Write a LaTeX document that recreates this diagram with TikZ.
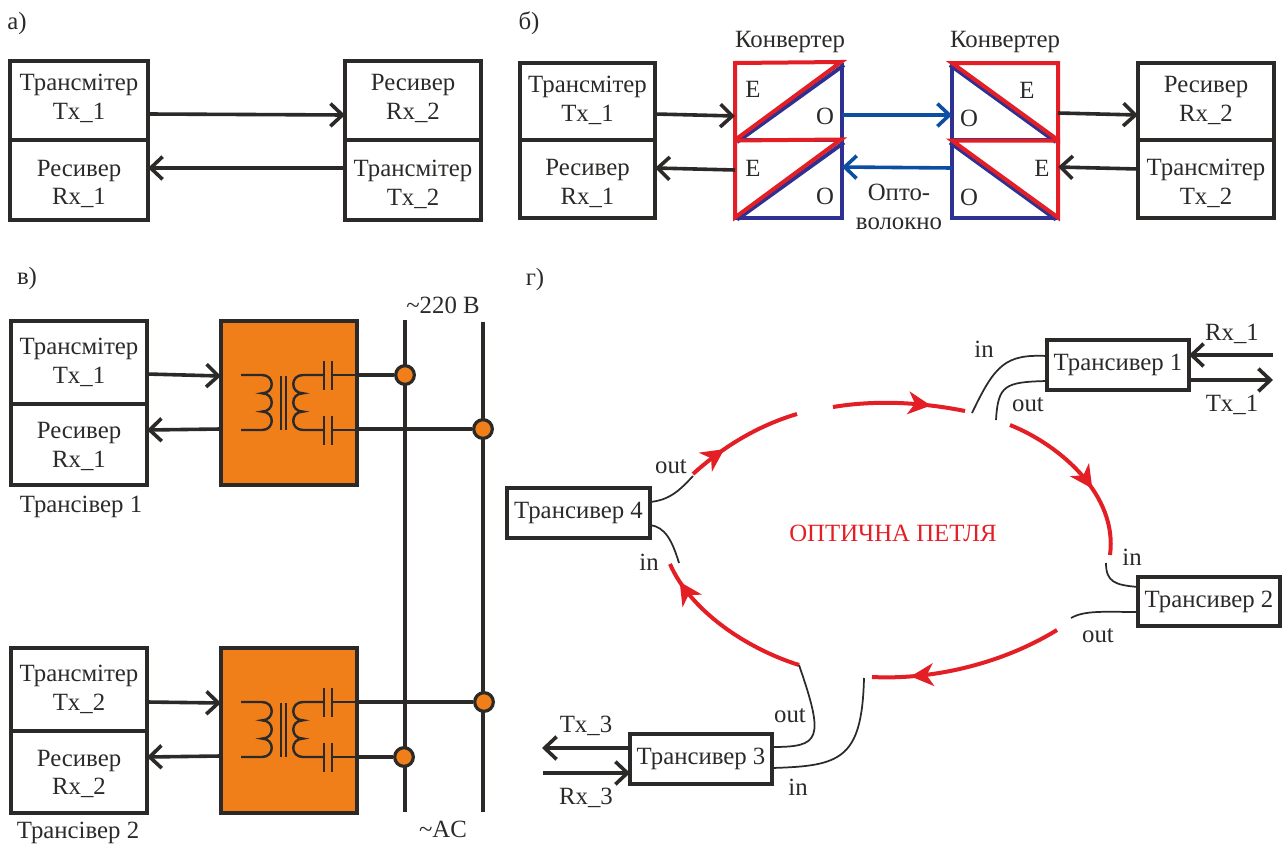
\documentclass[tikz,border=0pt]{standalone}
\usepackage{fontspec}
\setmainfont{Liberation Serif}
\usetikzlibrary{arrows.meta,decorations.markings}
\definecolor{ink}{HTML}{2B2A29}
\definecolor{rd}{HTML}{E31E24}
\definecolor{nv}{HTML}{2E3192}
\definecolor{bl}{HTML}{0B4EA2}
\definecolor{og}{HTML}{F07F19}
\newcommand{\cellbox}[7]{%
 \pgfmathsetmacro{\cxx}{(#2+#4)/2}\pgfmathsetmacro{\cyy}{(#3+#5)/2}%
 \pgfmathsetmacro{\wxx}{(#4-#2)*0.75}\pgfmathsetmacro{\hyy}{(#5-#3)*0.75}%
 \node[unit,minimum width=\wxx pt,minimum height=\hyy pt,label={[lab,yshift=#7pt]center:{#6}}] (#1) at (\cxx,\cyy) {};}
\tikzset{
 lab/.style={text=ink,font=\fontsize{18.6}{21.7}\selectfont,inner sep=0pt,align=center},
 unit/.style={draw=ink,line width=3.1pt,outer sep=0pt,inner sep=0pt},
 pow/.style={unit,fill=og},
 sig/.style={draw=ink,line width=2.7pt,-{Straight Barb[length=9pt,width=17pt,line width=2.7pt]}},
 fib/.style={sig,draw=bl},
 wire/.style={draw=ink,line width=2.4pt},
 thin wire/.style={draw=ink,line width=1.3pt},
 loopred/.style={draw=rd,line width=3pt},
 dot/.style={circle,draw=ink,fill=og,line width=2.4pt,minimum size=14pt,inner sep=0pt},
 hd/.style={decoration={markings,mark=at position #1 with {\arrow[rd]{Stealth[length=17pt,width=17pt,inset=5pt]}}},postaction={decorate}},
 pics/xfmr/.style={code={
  \draw[ink,line width=1.8pt] (20,54) -- (41,54)
    .. controls (54,54) and (54,72.3) .. (41,72.3)
    .. controls (54,72.3) and (54,90.6) .. (41,90.6)
    .. controls (54,90.6) and (54,109) .. (41,109) -- (20,109);
  \draw[ink,line width=1.3pt] (60,55) -- (60,109) (65,55) -- (65,109);
  \draw[ink,line width=1.8pt] (103,54) -- (82,54)
    .. controls (69,54) and (69,72.3) .. (82,72.3)
    .. controls (69,72.3) and (69,90.6) .. (82,90.6)
    .. controls (69,90.6) and (69,109) .. (82,109) -- (103,109);
  \draw[ink,line width=1.5pt] (103,40) -- (103,69) (111,40) -- (111,69)
    (103,95) -- (103,124) (111,95) -- (111,124);
  \draw[ink,line width=1.8pt] (111,54) -- (136,54) (111,109) -- (136,109);
 }}
}
\begin{document}
\begin{tikzpicture}[x=0.75pt,y=-0.75pt]
\useasboundingbox (0,0) rectangle (1282,846);
% labels of the panels
\node[lab] (pa) at (17,24) {а)};
\node[lab] (pb) at (529,23) {б)};
\node[lab] (pc) at (27,279) {в)};
\node[lab] (pd) at (535,280) {г)};
% panel a
\cellbox{aT}{10}{61}{148}{140}{Трансмітер\\Tx\_1}{1.5}
\cellbox{aR}{10}{140}{148}{220}{Ресивер\\Rx\_1}{-3}
\cellbox{aRb}{345}{61}{481}{140}{Ресивер\\Rx\_2}{1.5}
\cellbox{aTb}{345}{140}{481}{220}{Трансмітер\\Tx\_2}{-3}
\draw[sig] (aT.east |- 0,114) -- (aRb.west |- 0,115);
\draw[sig] (aTb.west |- 0,168) -- (aR.east |- 0,168);
% panel b
\cellbox{bT}{520}{63}{655}{140}{Трансмітер\\Tx\_1}{0.75}
\cellbox{bR}{520}{140}{655}{218}{Ресивер\\Rx\_1}{-3.5}
\cellbox{bRb}{1138}{63}{1274}{140}{Ресивер\\Rx\_2}{0.75}
\cellbox{bTb}{1138}{140}{1274}{218}{Трансмітер\\Tx\_2}{-3.5}
\node[minimum width=80.25pt,minimum height=57.75pt,inner sep=0pt,outer sep=0pt] (c1) at (788.5,101.5) {};
\node[minimum width=80.25pt,minimum height=57.75pt,inner sep=0pt,outer sep=0pt] (c2) at (788.5,179) {};
\node[minimum width=79.5pt,minimum height=57.75pt,inner sep=0pt,outer sep=0pt] (c3) at (1005,101.5) {};
\node[minimum width=79.5pt,minimum height=57.75pt,inner sep=0pt,outer sep=0pt] (c4) at (1005,179) {};
\foreach \c in {c1,c2}{
 \draw[nv,line width=3pt,line join=miter] (\c.north east) -- (\c.south east) -- (\c.south west);
 \draw[nv,line width=3pt] ([shift={(2,2)}]\c.south west) -- ([shift={(2,2)}]\c.north east);
 \draw[rd,line width=3pt,line join=miter] ([shift={(-1,-1)}]\c.north east) -- (\c.north west) -- (\c.south west) -- cycle;
}
\foreach \c in {c3,c4}{
 \draw[nv,line width=3pt,line join=miter] (\c.north west) -- (\c.south west) -- (\c.south east);
 \draw[nv,line width=3pt] ([shift={(-2,2)}]\c.north west) -- ([shift={(-2,2)}]\c.south east);
 \draw[rd,line width=3pt,line join=miter] (\c.north west) -- (\c.north east) -- (\c.south east) -- cycle;
}
\node[lab] (e1) at (753,89) {E};
\node[lab] (o1) at (825,116) {O};
\node[lab] (e2) at (753,168) {E};
\node[lab] (o2) at (825,196) {O};
\node[lab] (o3) at (969,118) {O};
\node[lab] (e3) at (1027,90) {E};
\node[lab] (o4) at (969,197) {O};
\node[lab] (e4) at (1042,168) {E};
\node[lab] (k1) at (790,42) {Конвертер};
\node[lab] (k2) at (1005,42) {Конвертер};
\node[lab] (fibre) at (899,207) {Опто-\\волокно};
\draw[sig] (bT.east |- 0,114) -- (c1.west |- 0,116);
\draw[sig] (c2.west |- 0,170) -- (bR.east |- 0,168);
\draw[fib] (c1.east |- 0,115) -- (c3.west |- 0,115);
\draw[fib] (c4.west |- 0,168) -- (c2.east |- 0,167);
\draw[sig] (c3.east |- 0,113) -- (bRb.west |- 0,115);
\draw[sig] (bTb.west |- 0,169) -- (c4.east |- 0,167);
% panel v
\cellbox{vT}{11}{321}{147}{404}{Трансмітер\\Tx\_1}{0}
\cellbox{vR}{11}{404}{147}{485}{Ресивер\\Rx\_1}{-1.5}
\cellbox{vTb}{11}{648}{147}{731}{Трансмітер\\Tx\_2}{0}
\cellbox{vRb}{11}{731}{147}{813}{Ресивер\\Rx\_2}{-1.5}
\node[pow,minimum width=102pt,minimum height=123pt] (o1b) at (289,403) {};
\node[pow,minimum width=102pt,minimum height=124pt] (o2b) at (289,730.5) {};
\pic at (221,321) {xfmr};
\pic at (221,648) {xfmr};
\coordinate (b1t) at (405,320); \coordinate (b1b) at (405,812);
\coordinate (b2t) at (483,322); \coordinate (b2b) at (483,812);
\draw[wire] (b1t) -- (b1b);
\draw[wire] (b2t) -- (b2b);
\node[dot] (d1) at (405,375) {};
\node[dot] (d2) at (483,429) {};
\node[dot] (d3) at (484,702) {};
\node[dot] (d4) at (404,757) {};
\draw[wire,line width=3pt] (o1b.east |- d1) -- (d1);
\draw[wire] (o1b.east |- d2) -- (d2);
\draw[wire] (o2b.east |- d3) -- (d3);
\draw[wire] (o2b.east |- d4) -- (d4);
\draw[sig] (vT.east |- 0,374) -- (o1b.west |- 0,376);
\draw[sig] (o1b.west |- 0,429) -- (vR.east |- 0,430);
\draw[sig] (vTb.east |- 0,702) -- (o2b.west |- 0,703);
\draw[sig] (o2b.west |- 0,756) -- (vRb.east |- 0,757);
\node[lab] (v220) at (443,305) {\textasciitilde220 В};
\node[lab] (vac) at (443,829) {\textasciitilde AC};
\node[lab] (tr1) at (81,507) {Трансівер 1};
\node[lab] (tr2) at (78,833) {Трансівер 2};
% panel g
\cellbox{T1}{1047}{340}{1189}{390}{Трансивер 1}{0}
\cellbox{T2}{1138}{577}{1280}{626}{Трансивер 2}{0}
\cellbox{T3}{630}{734}{772}{784}{Трансивер 3}{0}
\cellbox{T4}{507}{488}{650}{538}{Трансивер 4}{0}
\node[lab,text=rd] (loop) at (893,533) {ОПТИЧНА ПЕТЛЯ};
% free ends
\coordinate (r1s) at (693,474); \coordinate (r1e) at (797,414);
\coordinate (r2s) at (833,407); \coordinate (r2e) at (965,411);
\coordinate (r3s) at (1010,425); \coordinate (r3e) at (1110,555);
\coordinate (r4s) at (1057,630); \coordinate (r4e) at (872,677);
\coordinate (r5s) at (799,665); \coordinate (r5e) at (670,564);
\coordinate (w1) at (972,413); \coordinate (w2) at (996,420);
\coordinate (w3) at (1106,563); \coordinate (w4) at (1071,618);
\coordinate (w6) at (864,678);
\coordinate (w7) at (693,476); \coordinate (w8) at (679,563);
\coordinate (x1) at (1273,355); \coordinate (x2) at (1273,380);
\coordinate (x3) at (542,748); \coordinate (x4) at (543,773);
\draw[loopred,hd=0.33] (r1s) .. controls (725,445) and (760,425) .. (r1e);
\draw[loopred,hd=0.74] (r2s) .. controls (875,400) and (920,402) .. (r2e);
\draw[loopred,hd=0.6] (r3s) .. controls (1060,445) and (1118,495) .. (r3e);
\draw[loopred,hd=0.8] (r4s) .. controls (1000,665) and (930,680) .. (r4e);
\draw[loopred,hd=0.88] (r5s) .. controls (745,648) and (690,610) .. (r5e);
\draw[thin wire] (T1.west |- 0,356) .. controls (1005,354) and (995,365) .. (w1);
\draw[thin wire] (T1.west |- 0,381) .. controls (1005,382) and (998,385) .. (w2);
\draw[thin wire] (T2.west |- 0,587) .. controls (1115,585) and (1106,582) .. (w3);
\draw[thin wire] (T2.west |- 0,612) .. controls (1105,612) and (1085,610) .. (w4);
\draw[thin wire] (T3.east |- 0,747) .. controls (820,747) and (825,740) .. (r5s);
\draw[thin wire] (T3.east |- 0,768) .. controls (840,766) and (862,760) .. (w6);
\draw[thin wire] (T4.east |- 0,502) .. controls (670,500) and (680,490) .. (w7);
\draw[thin wire] (T4.east |- 0,525) .. controls (665,527) and (672,540) .. (w8);
\draw[sig] (x1) -- (T1.east |- x1);
\draw[sig] (T1.east |- x2) -- (x2);
\draw[sig] (T3.west |- x3) -- (x3);
\draw[sig] (x4) -- (T3.west |- x4);
\node[lab] (l1) at (984,349) {in};
\node[lab] (l2) at (1028,405) {out};
\node[lab] (l3) at (1232,334) {Rx\_1};
\node[lab] (l4) at (1232,405) {Tx\_1};
\node[lab] (l5) at (1132,557) {in};
\node[lab] (l6) at (1098,636) {out};
\node[lab] (l7) at (671,467) {out};
\node[lab] (l8) at (649,562) {in};
\node[lab] (l9) at (790,716) {out};
\node[lab] (l10) at (798,787) {in};
\node[lab] (l11) at (586,726) {Tx\_3};
\node[lab] (l12) at (586,798) {Rx\_3};
\end{tikzpicture}
\end{document}
